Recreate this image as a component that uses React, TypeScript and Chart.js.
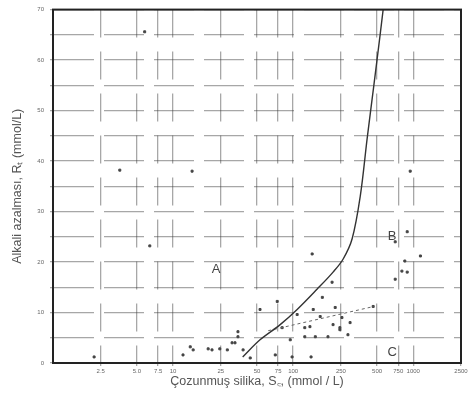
import React, { useEffect, useRef } from "react";
import { Chart, registerables } from "chart.js";
Chart.register(...registerables);

// x tick values (log axis) and their labels
const xTickValues = [2.5, 5, 7.5, 10, 25, 50, 75, 100, 250, 500, 750, 1000, 2500];
const xTickLabels = ["2.5", "5.0", "7.5", "10", "25", "50", "75", "100", "250", "500", "750", "1000", "2500"];
const yTickLabels = ["0", "10", "20", "30", "40", "50", "60", "70"];

// boundary curve (solid)
const curveX = [38, 53, 78, 108, 158, 215, 261, 310, 362, 414, 470, 530, 575];
const curveY = [1.2, 4.6, 7.6, 10.6, 14.6, 18, 20.6, 24.6, 33, 44.6, 55, 65, 72];

// trend line (dashed)
const trendX = [62, 470];
const trendY = [6.4, 11.2];

// measured points
const pointsX = [2.2, 3.6, 5.8, 6.4, 12.1, 13.9, 14.4, 14.7, 19.6, 21.1, 24.5, 28.3, 31, 32.8, 34.7, 34.7, 38.3, 43.9, 53, 71, 73.7, 81, 94.6, 98, 108, 125, 125, 138, 141, 144, 147, 153, 168, 175, 195, 211, 215, 224, 245, 245, 255, 286, 298, 464, 708, 708, 805, 851, 891, 891, 944, 1148];
const pointsY = [1.2, 38.2, 65.6, 23.2, 1.6, 3.2, 38, 2.6, 2.8, 2.6, 2.8, 2.6, 4, 4, 5.2, 6.2, 2.6, 1, 10.6, 1.6, 12.2, 7, 4.6, 1.2, 9.6, 7, 5.2, 7.2, 1.2, 21.6, 10.6, 5.2, 9.2, 13, 5.2, 16, 7.6, 11, 7, 6.6, 9, 5.6, 8, 11.2, 24, 16.6, 18.2, 20.2, 26, 18, 38, 21.2];

// region labels
const regionNames = ["A", "B", "C"];
const regionX = [22.8, 668, 668];
const regionY = [18.6, 25, 2.0];

const regionPlugin = {
  id: "regions",
  afterDatasetsDraw(chart: any) {
    const { ctx, scales } = chart;
    ctx.save();
    ctx.fillStyle = "#444";
    ctx.font = "13px 'Liberation Sans', Arial, sans-serif";
    ctx.textAlign = "center";
    ctx.textBaseline = "middle";
    regionNames.forEach((n, i) => {
      ctx.fillText(n, scales.x.getPixelForValue(regionX[i]), scales.y.getPixelForValue(regionY[i]));
    });
    ctx.restore();
  },
};

export default function App() {
  const ref = useRef<HTMLCanvasElement>(null);
  useEffect(() => {
    const chart = new Chart(ref.current!, {
      type: "scatter",
      data: {
        datasets: [
          {
            type: "line",
            data: curveX.map((x, i) => ({ x, y: curveY[i] })),
            borderColor: "#333",
            borderWidth: 1.4,
            pointRadius: 0,
            tension: 0.35,
            fill: false,
          } as any,
          {
            type: "line",
            data: trendX.map((x, i) => ({ x, y: trendY[i] })),
            borderColor: "#666",
            borderWidth: 1,
            borderDash: [3, 3],
            pointRadius: 0,
            fill: false,
          } as any,
          {
            data: pointsX.map((x, i) => ({ x, y: pointsY[i] })),
            backgroundColor: "#444",
            borderColor: "#444",
            pointRadius: 1.4,
            pointStyle: "rect",
          },
        ],
      },
      options: {
        animation: false,
        responsive: false,
        clip: true as any,
        layout: { padding: { top: 8, right: 10, left: 10, bottom: 4 } },
        plugins: { legend: { display: false }, tooltip: { enabled: false } },
        scales: {
          x: {
            type: "logarithmic",
            min: 1,
            max: 2500,
            afterBuildTicks: (scale: any) => {
              scale.ticks = xTickValues.map((v) => ({ value: v }));
            },
            afterFit: (scale: any) => {
              scale.height = 26;
            },
            ticks: {
              autoSkip: false,
              maxRotation: 0,
              padding: 2,
              color: "#666",
              font: { size: 6, family: "'Liberation Sans', Arial, sans-serif" },
              callback: (v: any) => {
                const i = xTickValues.indexOf(Number(v));
                return i >= 0 ? xTickLabels[i] : "";
              },
            },
            grid: { color: "rgba(60,60,60,0.45)", lineWidth: 1.3, drawTicks: true, tickLength: 3 },
            border: { color: "#222", width: 2, dash: [28, 14] },
            title: {
              display: true,
              text: "Çozunmuş silika, S꜀, (mmol / L)",
              color: "#555",
              font: { size: 12.5, family: "'Liberation Sans', Arial, sans-serif" },
              padding: { top: 0, bottom: 0 },
            },
          },
          y: {
            min: 0,
            max: 70,
            afterFit: (scale: any) => {
              scale.width = 43;
            },
            ticks: {
              stepSize: 5,
              padding: 6,
              color: "#666",
              font: { size: 6, family: "'Liberation Sans', Arial, sans-serif" },
              callback: (v: any) => {
                const n = Number(v);
                return n % 10 === 0 ? yTickLabels[n / 10] : "";
              },
            },
            grid: { color: "rgba(60,60,60,0.45)", lineWidth: 1.3, tickLength: 3 },
            border: { color: "#222", width: 2, dash: [40, 10] },
            title: {
              display: true,
              text: "Alkali azalması, Rₜ (mmol/L)",
              color: "#555",
              font: { size: 12.5, family: "'Liberation Sans', Arial, sans-serif" },
              padding: { top: 0, bottom: 2 },
            },
          },
        },
      },
      plugins: [
        regionPlugin,
        {
          id: "frame",
          afterDraw(c: any) {
            const { ctx, chartArea: a } = c;
            ctx.save();
            ctx.strokeStyle = "#222";
            ctx.lineWidth = 2;
            ctx.strokeRect(a.left, a.top, a.right - a.left, a.bottom - a.top);
            ctx.restore();
          },
        },
      ],
    });
    return () => chart.destroy();
  }, []);
  return (
    <div style={{ position: "fixed", left: 0, top: 0, width: 471, height: 393, background: "#fff" }}>
      <canvas ref={ref} width={471} height={393} />
    </div>
  );
}
